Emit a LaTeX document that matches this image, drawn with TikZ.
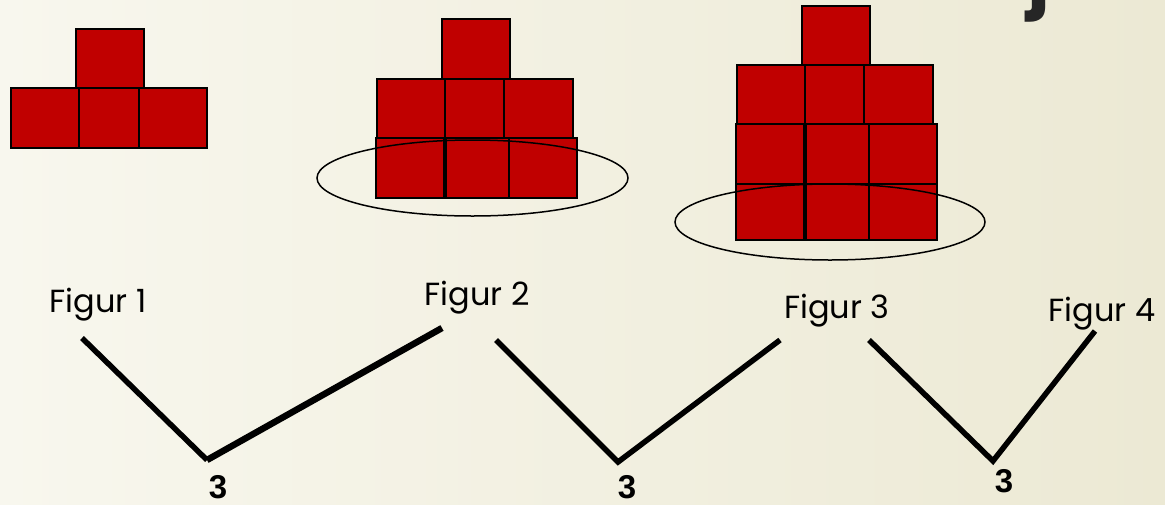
\documentclass[tikz,border=0pt]{standalone}
\usepackage{fontspec}
\setmainfont{Poppins}
\newfontfamily\numfont{Liberation Sans}
\usetikzlibrary{shapes.geometric}
\definecolor{bgL}{HTML}{F8F7EE}
\definecolor{bgM}{HTML}{FAFAF4}
\definecolor{bgR}{HTML}{ECE9D4}
\definecolor{brick}{HTML}{C00000}
\tikzset{
  blk/.style={fill=brick, draw=black, line width=1.5pt},
  ring/.style={draw=black, line width=1.5pt},
  vline/.style={draw=black, line width=5.5pt},
  flabel/.style={font=\fontsize{32}{36}\selectfont, anchor=base, inner sep=0pt},
  nlabel/.style={font=\numfont\fontsize{33}{36}\selectfont\bfseries, anchor=base, inner sep=0pt},
}
\begin{document}
\begin{tikzpicture}[x=1pt,y=-1pt]
\useasboundingbox (0,0) rectangle (1165,504);
\clip (0,0) rectangle (1165,504);
\shade[left color=bgL, middle color=bgM, right color=bgR] (0,0) rectangle (1165,504);
% cut-off title letter
\node[font=\fontsize{78}{90}\selectfont\bfseries, text=black!85, anchor=base, inner sep=0pt] (title) at (1039,1) {j};
% Figure 1
\filldraw[blk] (76,29) rectangle (144,88);
\filldraw[blk] (11,88) rectangle (79,148);
\filldraw[blk] (79,88) rectangle (139,148);
\filldraw[blk] (139,88) rectangle (207,148);
% Figure 2
\filldraw[blk] (442,19) rectangle (510,79);
\filldraw[blk] (377,79) rectangle (445,138);
\filldraw[blk] (445,79) rectangle (504,138);
\filldraw[blk] (504,79) rectangle (573,138);
\filldraw[blk] (376,138) rectangle (444,198);
\filldraw[blk] (446,138) rectangle (509,198);
\filldraw[blk] (509,138) rectangle (577,198);
\node[ring, ellipse, minimum width=311pt, minimum height=76pt, inner sep=0pt] (e2) at (472.5,178) {};
% Figure 3
\filldraw[blk] (802,6) rectangle (870,65);
\filldraw[blk] (737,65) rectangle (805,124);
\filldraw[blk] (805,65) rectangle (864,124);
\filldraw[blk] (864,65) rectangle (933,124);
\filldraw[blk] (736,124) rectangle (804,184);
\filldraw[blk] (806,124) rectangle (869,184);
\filldraw[blk] (869,124) rectangle (937,184);
\filldraw[blk] (736,184) rectangle (804,240);
\filldraw[blk] (806,184) rectangle (869,240);
\filldraw[blk] (869,184) rectangle (937,240);
\node[ring, ellipse, minimum width=310pt, minimum height=76pt, inner sep=0pt] (e3) at (830,222) {};
% labels
\node[flabel] (f1) at (98,312) {Figur 1};
\node[flabel] (f2) at (477,305) {Figur 2};
\node[flabel] (f3) at (837,318) {Figur 3};
\node[flabel] (f4) at (1102,321) {Figur 4};
\node[nlabel] (n1) at (218,498) {3};
\node[nlabel] (n2) at (627,498) {3};
\node[nlabel] (n3) at (1004,492) {3};
% connectors
\coordinate (a1) at (82,338);
\coordinate (v1) at (207,460);
\coordinate (b1) at (442,328);
\coordinate (a2) at (496,340);
\coordinate (v2) at (618,462);
\coordinate (b2) at (780,340);
\coordinate (a3) at (869,340);
\coordinate (v3) at (993,461);
\coordinate (b3) at (1095,331);
\draw[vline] (a1) -- (v1);
\draw[vline, line width=6.5pt] (v1) -- (b1);
\draw[vline] (a2) -- (v2) -- (b2);
\draw[vline] (a3) -- (v3) -- (b3);
\end{tikzpicture}
\end{document}
